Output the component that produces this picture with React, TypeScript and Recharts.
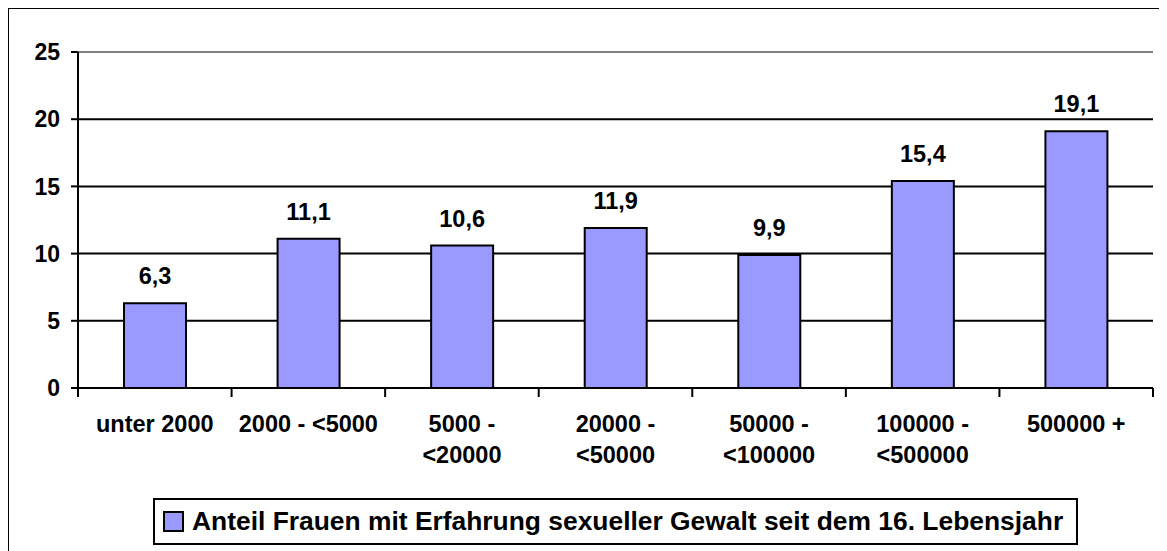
import React from 'react';
import {
  BarChart,
  Bar,
  XAxis,
  YAxis,
  CartesianGrid,
  ReferenceLine,
  LabelList,
} from 'recharts';

const categories = [
  'unter 2000',
  '2000 - <5000',
  '5000 - <20000',
  '20000 - <50000',
  '50000 - <100000',
  '100000 - <500000',
  '500000 +',
];
const shares = [6.3, 11.1, 10.6, 11.9, 9.9, 15.4, 19.1];
const yTicks = [0, 5, 10, 15, 20, 25];
const seriesName = 'Anteil Frauen mit Erfahrung sexueller Gewalt seit dem 16. Lebensjahr';

const data = categories.map((name, i) => ({ name, value: shares[i] }));

const FONT = '"Liberation Sans", Arial, sans-serif';
const BAR_FILL = '#9999FF';

if (typeof document !== 'undefined') {
  document.body.style.overflow = 'hidden';
}

// long labels wrap after the dash, like the original.
// tick marks sit on the category boundaries (half a band left/right of the centre)
const CategoryTick = (props: any) => {
  const { x, y, payload, index } = props;
  const text: string = payload.value;
  const half = payload.offset || 0;
  const cut = text.indexOf('-');
  const lines = text.length > 12 ? [text.slice(0, cut + 1), text.slice(cut + 2)] : [text];
  return (
    <g transform={`translate(${x},${y})`}>
      <line x1={-half} x2={-half} y1={-2} y2={7} stroke="#000" strokeWidth={2} />
      {index === categories.length - 1 && (
        <line x1={half} x2={half} y1={-2} y2={7} stroke="#000" strokeWidth={2} />
      )}
      {lines.map((line, i) => (
        <text
          key={i}
          x={0}
          y={42 + i * 31}
          textAnchor="middle"
          fontFamily={FONT}
          fontWeight="bold"
          fontSize={23.5}
          fill="#000"
        >
          {line}
        </text>
      ))}
    </g>
  );
};

export default function App() {
  return (
    <div style={{ position: 'relative', width: 1159, height: 543, background: '#fff' }}>
      {/* outer frame, runs off the right and bottom edge */}
      <div
        style={{
          position: 'absolute',
          left: -1,
          top: -1,
          width: 1200,
          height: 600,
          border: '2px solid #000',
          boxSizing: 'border-box',
        }}
      />
      <div style={{ position: 'absolute', left: 0, top: 0 }}>
        <BarChart
          width={1159}
          height={543}
          data={data}
          margin={{ top: 44, right: 14, left: 0, bottom: 63 }}
          barSize={62}
        >
          <CartesianGrid vertical={false} stroke="#000" strokeWidth={2} />
          <XAxis
            dataKey="name"
            height={100}
            interval={0}
            tickSize={0}
            tickLine={false}
            axisLine={{ stroke: '#000', strokeWidth: 2 }}
            tick={<CategoryTick />}
          />
          <YAxis
            domain={[0, 25]}
            ticks={yTicks}
            width={70}
            tickSize={7}
            tickMargin={11}
            axisLine={{ stroke: '#000', strokeWidth: 2 }}
            tickLine={{ stroke: '#000', strokeWidth: 2 }}
            tick={{ fontFamily: FONT, fontWeight: 'bold', fontSize: 23, fill: '#000' }}
          />
          <YAxis
            yAxisId="r"
            orientation="right"
            width={0}
            tick={false}
            tickLine={false}
            axisLine={{ stroke: '#808080', strokeWidth: 2 }}
          />
          <ReferenceLine y={25} stroke="#808080" strokeWidth={2} />
          <Bar
            dataKey="value"
            name={seriesName}
            fill={BAR_FILL}
            stroke="#000"
            strokeWidth={2}
            isAnimationActive={false}
          >
            <LabelList
              dataKey="value"
              position="top"
              offset={19}
              formatter={(v: any) => String(v).replace('.', ',')}
              style={{ fontFamily: FONT, fontWeight: 'bold', fontSize: 23.5, fill: '#000' }}
            />
          </Bar>
        </BarChart>
      </div>
      {/* legend box */}
      <div
        style={{
          position: 'absolute',
          left: 145,
          top: 490,
          width: 925,
          height: 47,
          border: '2px solid #000',
          boxSizing: 'border-box',
          display: 'flex',
          alignItems: 'center',
          paddingLeft: 8,
          fontFamily: FONT,
          fontWeight: 'bold',
          fontSize: 26.4,
          color: '#000',
          background: '#fff',
        }}
      >
        <span
          style={{
            display: 'inline-block',
            width: 17,
            height: 17,
            border: '2px solid #000',
            background: BAR_FILL,
            marginRight: 8,
          }}
        />
        <span>{seriesName}</span>
      </div>
    </div>
  );
}
